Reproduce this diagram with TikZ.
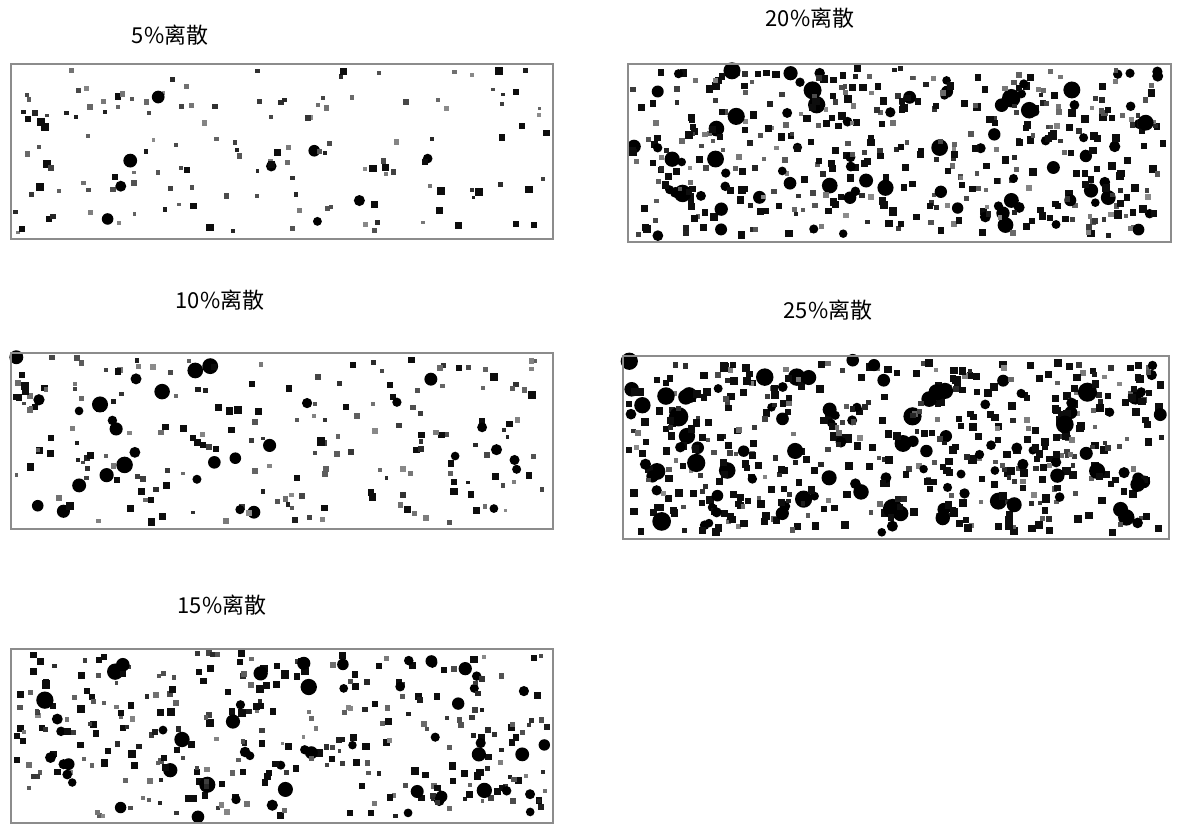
\documentclass[tikz,border=0pt]{standalone}
\usepackage{fontspec}
\setmainfont{Noto Sans CJK SC}
\usepackage{tikz}
\usetikzlibrary{positioning, calc}

% random pores inside a box: x0, y0, width, height, count, size factor, seed
\newcommand{\porefill}[7]{%
  \pgfmathsetseed{#7}%
  \foreach \k in {1,...,#5}{%
    \pgfmathsetmacro\px{#1+5+(#3-10)*rnd}%
    \pgfmathsetmacro\py{#2+5+(#4-10)*rnd}%
    \pgfmathsetmacro\sz{#6*(3.6+3.4*rnd+11*rnd^8)}%
    \pgfmathsetmacro\gr{ifthenelse(\sz>6,95,45+45*rnd)}%
    \pgfmathsetmacro\rr{\sz*0.01}%
    \ifdim\sz pt>8.5pt
      \fill[black] (\px,\py) circle[radius=\rr cm];
    \else
      \fill[black!\gr] (\px-\sz/2,\py-\sz/2) rectangle ++(\sz,\sz);
    \fi
  }%
}

\begin{document}
\begin{tikzpicture}[
    x=0.02cm, y=-0.02cm,
    tag/.style={font=\fontsize{12.5}{14}\selectfont, inner sep=0pt},
    frame/.style={draw=black!45, line width=1.1pt, anchor=north west, inner sep=0pt}
]
\useasboundingbox (0,0) rectangle (1192,825);

% pores
\porefill{10}{63}{542}{175}{150}{0.9}{11}
\porefill{627}{63}{543}{178}{480}{1.1}{22}
\porefill{10}{352}{542}{176}{220}{0.95}{33}
\porefill{622}{355}{546}{183}{560}{1.15}{44}
\porefill{10}{648}{542}{174}{340}{1.0}{55}

% frames
\node[frame, minimum width=10.84cm, minimum height=3.5cm] (b05) at (10,63) {};
\node[frame, minimum width=10.86cm, minimum height=3.56cm] (b20) at (627,63) {};
\node[frame, minimum width=10.84cm, minimum height=3.52cm] (b10) at (10,352) {};
\node[frame, minimum width=10.92cm, minimum height=3.66cm] (b25) at (622,355) {};
\node[frame, minimum width=10.84cm, minimum height=3.48cm] (b15) at (10,648) {};

% labels
\node[tag] (t05) at (170,35) {5\%离散};
\node[tag] (t20) at (810,18) {20\%离散};
\node[tag] (t10) at (220,300) {10\%离散};
\node[tag] (t25) at (828,310) {25\%离散};
\node[tag] (t15) at (222,605) {15\%离散};
\end{tikzpicture}
\end{document}
